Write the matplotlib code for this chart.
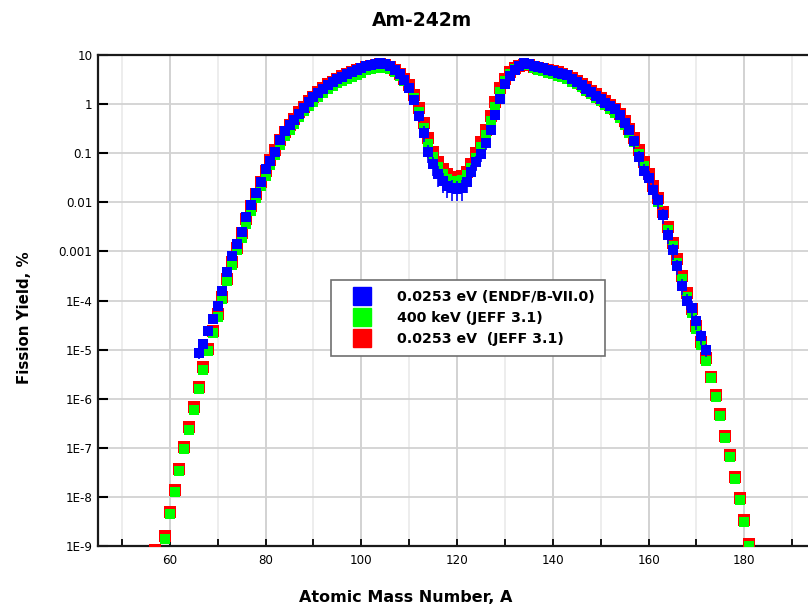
#------------------------------#
# IMPORT LIBRARIES
#------------------------------#

import numpy as np
import matplotlib
matplotlib.use('Agg')
import matplotlib.pyplot as plt
from matplotlib.lines import Line2D

plt.rcParams['font.family'] = ['DejaVu Sans']

#------------------------------#
# DATA (fission yield, %)
#------------------------------#

# ENDF/B-VII.0, thermal (0.0253 eV), A = 66..172
endf_a = np.arange(66, 173)
endf_yield = [
    8.5e-6, 1.32e-5, 2.4e-5, 4.2e-5, 7.6e-5, 1.58e-4, 3.8e-4, 7.9e-4, 1.41e-3, 2.51e-3,   # 66-75
    5.0e-3, 8.9e-3, 1.58e-2, 2.63e-2, 4.7e-2, 7.1e-2, 0.107, 0.19, 0.282, 0.38,         # 76-85
    0.48, 0.63, 0.85, 1.12, 1.38, 1.70, 2.04, 2.40, 2.82, 3.24,                          # 86-95
    3.63, 4.07, 4.47, 5.01, 5.50, 6.03, 6.31, 6.61, 6.76, 6.61,                          # 96-105
    6.03, 5.01, 4.17, 3.16, 2.09, 1.20, 0.575, 0.263, 0.107, 0.060,                      # 106-115
    0.038, 0.0275, 0.0219, 0.0195, 0.0191, 0.0195, 0.0263, 0.0417, 0.066, 0.095,         # 116-125
    0.158, 0.30, 0.60, 1.26, 2.51, 3.80, 5.01, 5.89, 6.76, 6.61,                         # 126-135
    5.89, 5.62, 5.37, 5.01, 4.68, 4.37, 4.17, 3.89, 3.31, 2.82,                          # 136-145
    2.40, 2.04, 1.74, 1.45, 1.26, 1.05, 0.91, 0.78, 0.60, 0.417,                         # 146-155
    0.295, 0.174, 0.083, 0.0437, 0.0316, 0.0182, 0.0110, 0.0055, 0.0022, 0.00105,        # 156-165
    5.0e-4, 2.0e-4, 1.0e-4, 7.2e-5, 3.8e-5, 1.9e-5, 1.0e-5,                              # 166-172
]
endf_unc_pct = [
    25, 25, 22, 22, 20, 15, 10, 8, 8, 6,
    6, 6, 6, 6, 6, 6, 5, 5, 5, 5,
    5, 5, 5, 5, 5, 5, 5, 5, 5, 5,
    4, 4, 4, 4, 4, 4, 4, 4, 4, 4,
    4, 5, 5, 6, 8, 15, 25, 35, 40, 42,
    45, 45, 45, 45, 45, 45, 42, 40, 35, 30,
    25, 15, 10, 6, 5, 4, 4, 4, 4, 4,
    4, 4, 4, 4, 4, 4, 4, 4, 5, 5,
    5, 5, 5, 6, 6, 6, 6, 8, 10, 12,
    20, 30, 35, 35, 35, 35, 35, 35, 35, 35,
    35, 35, 35, 35, 35, 35, 30,
]

# JEFF 3.1, thermal (0.0253 eV), A = 57, 59..181
jeff_th_a = np.array([57] + list(range(59, 182)))
jeff_th_yield = [
    8.3e-10,                                                                             # 57
    1.58e-9, 5.0e-9, 1.38e-8, 3.7e-8, 1.05e-7, 2.6e-7, 6.8e-7, 1.74e-6, 4.4e-6, 1.05e-5,  # 59-68
    2.4e-5, 5.2e-5, 1.2e-4, 2.8e-4, 6.0e-4, 1.2e-3, 2.34e-3, 4.6e-3, 8.3e-3, 1.51e-2,     # 69-78
    2.63e-2, 4.4e-2, 7.2e-2, 0.117, 0.182, 0.275, 0.38, 0.50, 0.68, 0.89,                 # 79-88
    1.15, 1.41, 1.74, 2.09, 2.51, 2.88, 3.31, 3.72, 4.07, 4.47,                           # 89-98
    4.90, 5.25, 5.62, 6.03, 6.31, 6.46, 6.31, 5.75, 5.01, 4.17,                           # 99-108
    3.31, 2.40, 1.51, 0.83, 0.417, 0.20, 0.105, 0.066, 0.048, 0.038,                      # 109-118
    0.033, 0.0316, 0.034, 0.0417, 0.060, 0.100, 0.166, 0.30, 0.56, 1.12,                  # 119-128
    2.09, 3.31, 4.47, 5.37, 6.03, 6.31, 6.17, 5.75, 5.37, 5.13,                           # 129-138
    4.90, 4.68, 4.47, 4.17, 3.80, 3.39, 2.95, 2.57, 2.19, 1.86,                           # 139-148
    1.58, 1.35, 1.15, 0.95, 0.79, 0.63, 0.457, 0.316, 0.20, 0.115,                        # 149-158
    0.066, 0.038, 0.0219, 0.012, 0.0063, 0.00316, 0.00151, 6.9e-4, 3.16e-4, 1.41e-4,      # 159-168
    6.6e-5, 3.0e-5, 1.41e-5, 6.6e-6, 2.8e-6, 1.2e-6, 4.8e-7, 1.78e-7, 7.1e-8, 2.6e-8,     # 169-178
    9.3e-9, 3.4e-9, 1.12e-9,                                                              # 179-181
]

# JEFF 3.1, 400 keV, A = 59..181
jeff_fast_a = np.arange(59, 182)
jeff_fast_yield = [
    1.41e-9, 4.5e-9, 1.23e-8, 3.3e-8, 9.3e-8, 2.34e-7, 6.0e-7, 1.55e-6, 3.9e-6, 9.3e-6,   # 59-68
    2.14e-5, 4.7e-5, 1.07e-4, 2.5e-4, 5.4e-4, 1.07e-3, 1.86e-3, 3.6e-3, 6.6e-3, 1.2e-2,   # 69-78
    2.1e-2, 3.5e-2, 5.8e-2, 9.3e-2, 0.145, 0.219, 0.30, 0.40, 0.54, 0.71,                 # 79-88
    0.91, 1.12, 1.38, 1.66, 2.00, 2.29, 2.63, 2.95, 3.30, 3.60,                           # 89-98
    4.00, 4.40, 4.90, 5.25, 5.50, 5.62, 5.50, 5.13, 4.57, 3.80,                           # 99-108
    2.95, 2.14, 1.32, 0.69, 0.33, 0.151, 0.083, 0.052, 0.038, 0.030,                      # 109-118
    0.0269, 0.0263, 0.0282, 0.0355, 0.050, 0.079, 0.132, 0.24, 0.447, 0.89,               # 119-128
    1.78, 3.02, 4.17, 5.25, 6.03, 6.46, 6.31, 5.50, 5.01, 4.68,                           # 129-138
    4.37, 4.07, 3.80, 3.55, 3.24, 2.88, 2.51, 2.19, 1.86, 1.58,                           # 139-148
    1.35, 1.15, 0.95, 0.79, 0.66, 0.52, 0.38, 0.263, 0.166, 0.095,                        # 149-158
    0.055, 0.0316, 0.0182, 0.0100, 0.0054, 0.0027, 0.00129, 5.9e-4, 2.7e-4, 1.2e-4,       # 159-168
    5.6e-5, 2.6e-5, 1.23e-5, 5.9e-6, 2.6e-6, 1.1e-6, 4.4e-7, 1.62e-7, 6.5e-8, 2.34e-8,    # 169-178
    8.5e-9, 3.1e-9, 1.02e-9,                                                              # 179-181
]
jeff_unc_pct = 20

labels = ['0.0253 eV (ENDF/B-VII.0)', '400 keV (JEFF 3.1)', '0.0253 eV  (JEFF 3.1)']
colors = ['#0000ff', '#00ff00', '#ff0000']

y_ticks = [1e-9, 1e-8, 1e-7, 1e-6, 1e-5, 1e-4, 1e-3, 1e-2, 1e-1, 1, 10]
y_ticklabels = ['1E-9', '1E-8', '1E-7', '1E-6', '1E-5', '1E-4', '0.001', '0.01', '0.1', '1', '10']
x_major = [60, 80, 100, 120, 140, 160, 180]
x_minor = [50, 70, 90, 110, 130, 150, 170, 190]

#------------------------------#
# PLOTTING
#------------------------------#


def draw_series(ax, a, y, pct, color, size, z):
    y = np.asarray(y)
    err = y * np.asarray(pct) / 100.0
    ax.errorbar(a, y, yerr=err, fmt='s', color=color, ecolor=color, elinewidth=1.2,
                markersize=size, markeredgewidth=0, capsize=0, zorder=z)


fig = plt.figure(figsize=(8.08, 6.12), dpi=100)
ax = fig.add_axes([98/808, 66/612, 766/808, 491/612])

ax.set_yscale('log')
ax.set_xlim(45, 205)
ax.set_ylim(1e-9, 10)

# grid
for v in x_major:
    ax.axvline(v, color='#cfcfcf', linewidth=1.3, zorder=0)
for v in x_minor:
    ax.axvline(v, color='#ececec', linewidth=1.3, zorder=0)
for v in y_ticks:
    ax.axhline(v, color='#d2d2d2', linewidth=1.3, zorder=0)

draw_series(ax, jeff_th_a, jeff_th_yield, jeff_unc_pct, colors[2], 8.2, 3)
draw_series(ax, jeff_fast_a, jeff_fast_yield, jeff_unc_pct, colors[1], 6.6, 4)
draw_series(ax, endf_a, endf_yield, endf_unc_pct, colors[0], 7.4, 5)

x_ticks = sorted(x_major + x_minor)
ax.set_yticks(y_ticks)
ax.set_yticklabels(y_ticklabels)
ax.yaxis.set_minor_locator(matplotlib.ticker.NullLocator())
ax.set_xticks(x_ticks)
ax.set_xticklabels([str(v) if v in x_major else '' for v in x_ticks])
ax.tick_params(axis='y', direction='in', length=7, width=1.5, labelsize=8.6, pad=4, right=False)
ax.tick_params(axis='x', direction='in', length=5, width=1.3, labelsize=8.6, pad=6, top=False)

for side in ['left', 'bottom', 'top']:
    ax.spines[side].set_linewidth(1.6)
    ax.spines[side].set_color('#1a1a1a')
ax.spines['right'].set_visible(False)

handles = [Line2D([], [], marker='s', linestyle='none', color=c, markersize=13) for c in colors]
leg = ax.legend(handles, labels, loc='upper left', bbox_to_anchor=(0.304, 0.542),
                borderaxespad=0, fancybox=False, framealpha=1, edgecolor='#707070',
                prop={'weight': 'bold', 'size': 10.2}, handlelength=2.9, handletextpad=1.05,
                labelspacing=0.5, borderpad=0.72)
leg.get_frame().set_linewidth(1.2)
leg.set_zorder(10)

fig.text(422/808, 1 - 20/612, 'Am-242m', ha='center', va='center', fontsize=13.5, fontweight='bold')
fig.text(406/808, 1 - 598/612, 'Atomic Mass Number, A', ha='center', va='center',
         fontsize=11.5, fontweight='bold')
fig.text(25/808, 1 - 318/612, 'Fission Yield, %', ha='center', va='center', rotation=90,
         fontsize=10.8, fontweight='bold')

fig.savefig('out.png', dpi=100)
